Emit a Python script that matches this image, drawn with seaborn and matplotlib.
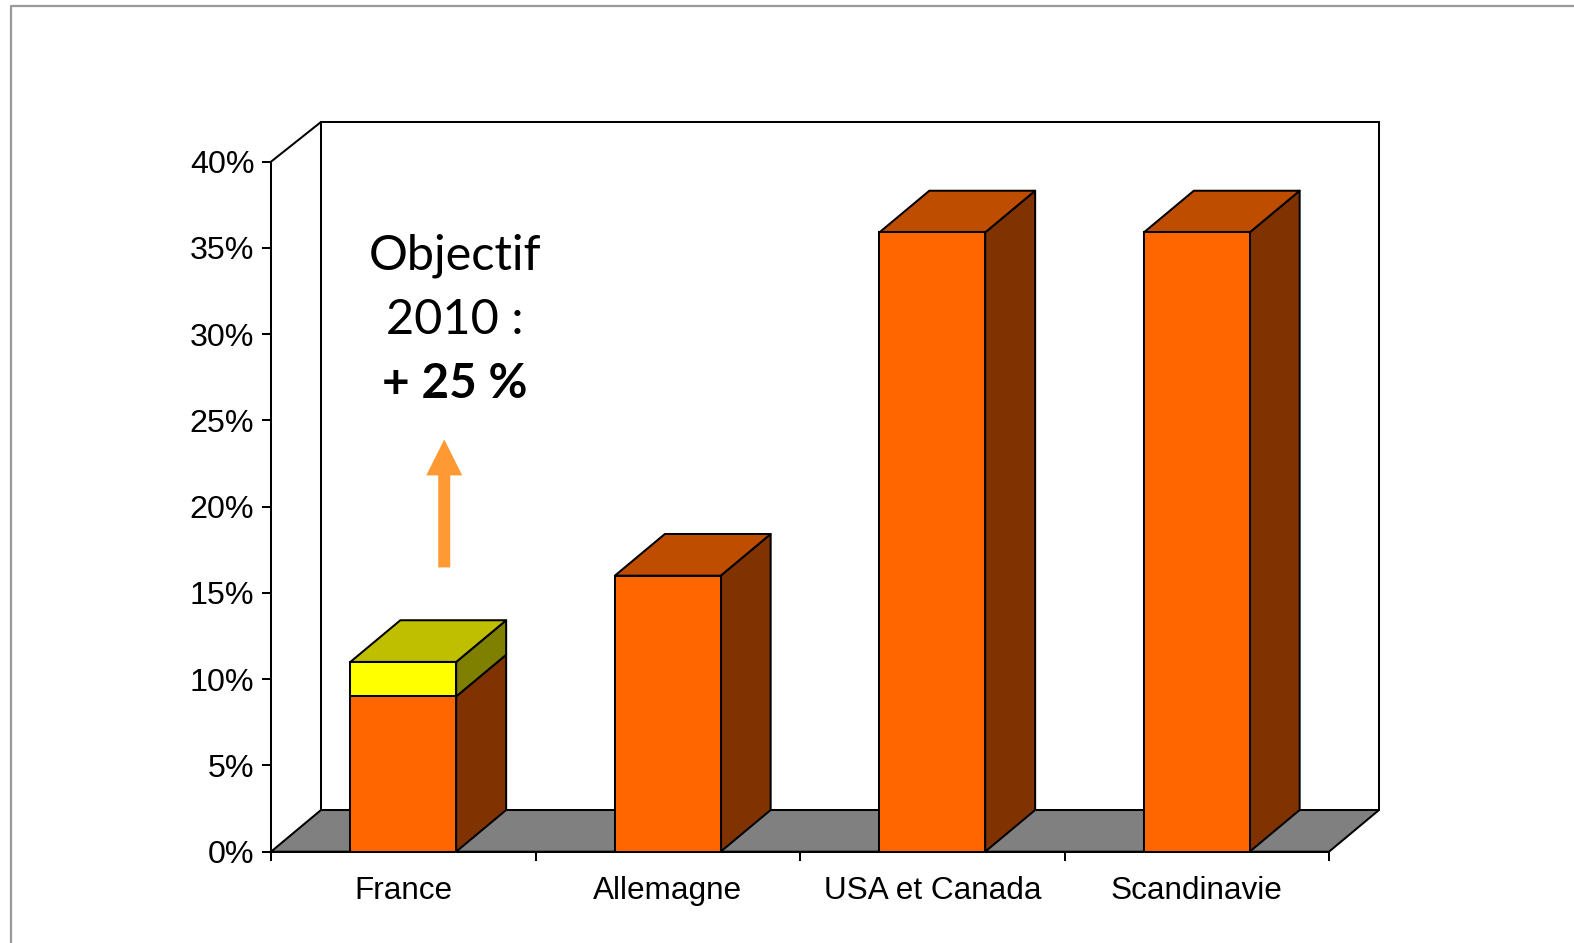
import matplotlib
matplotlib.use("Agg")
import matplotlib.pyplot as plt
from matplotlib.lines import Line2D
from matplotlib.patches import Polygon
import pandas as pd
import seaborn as sns

categories = ["France", "Allemagne", "USA et Canada", "Scandinavie"]
base_values = [9.0, 16.0, 35.9, 35.9]
objective_extra = [2.0, 0.0, 0.0, 0.0]
y_ticks = [0, 5, 10, 15, 20, 25, 30, 35, 40]
note_lines = ["Objectif", "2010 :", "+ 25 %"]

W, H = 1574, 943
X0, X1, Y0, Y40 = 271.0, 1329.0, 851.7, 161.7
BAR_WIDTH = 0.4
DEPTH_X = 50 / ((X1 - X0) / 4)
DEPTH_Y = 41.7 / ((Y0 - Y40) / 40)
TOP_DEPTH_Y = 39.7 / ((Y0 - Y40) / 40)
EDGE = 1.45

sns.set_theme(style="white")
plt.rcParams["font.family"] = ["Liberation Sans", "DejaVu Sans"]

fig = plt.figure(figsize=(W / 100, H / 100), dpi=100, facecolor="white")
ax = fig.add_axes([X0 / W, 1 - Y0 / H, (X1 - X0) / W, (Y0 - Y40) / H])
ax.set_facecolor("none")

df = pd.DataFrame({
    "pays": categories,
    "base": base_values,
    "total": [b + e for b, e in zip(base_values, objective_extra)],
})

sns.barplot(data=df, x="pays", y="total", color="#FFFF00", saturation=1, width=BAR_WIDTH,
            edgecolor="black", linewidth=EDGE, zorder=5, ax=ax)
sns.barplot(data=df, x="pays", y="base", color="#FF6600", saturation=1, width=BAR_WIDTH,
            edgecolor="black", linewidth=EDGE, zorder=6, ax=ax)

ax.set_xlim(-0.5, 3.5)
ax.set_ylim(0, 40)
ax.set_xlabel("")
ax.set_ylabel("")


def poly(points, color, z):
    ax.add_patch(Polygon(points, closed=True, facecolor=color, edgecolor="black",
                         linewidth=EDGE, zorder=z, clip_on=False, joinstyle="round"))


# floor and back wall
left, right = -0.5, 3.5
poly([(left, 0), (right, 0), (right + DEPTH_X, DEPTH_Y), (left + DEPTH_X, DEPTH_Y)], "#808080", 1)
wall_top = 40 + TOP_DEPTH_Y
for xs, ys in [
    ([left, left + DEPTH_X], [40, wall_top]),
    ([left + DEPTH_X, left + DEPTH_X], [DEPTH_Y, wall_top]),
    ([left + DEPTH_X, right + DEPTH_X], [wall_top, wall_top]),
    ([right + DEPTH_X, right + DEPTH_X], [DEPTH_Y, wall_top]),
]:
    ax.plot(xs, ys, color="black", lw=EDGE, clip_on=False, zorder=1.5, solid_capstyle="round")

# bar sides and tops
for i, (b, e) in enumerate(zip(base_values, objective_extra)):
    xl, xr = i - BAR_WIDTH / 2, i + BAR_WIDTH / 2
    poly([(xr, 0), (xr + DEPTH_X, DEPTH_Y), (xr + DEPTH_X, b + DEPTH_Y), (xr, b)], "#803300", 3)
    if e > 0:
        t = b + e
        poly([(xr, b), (xr + DEPTH_X, b + DEPTH_Y), (xr + DEPTH_X, t + DEPTH_Y), (xr, t)], "#808000", 3)
        poly([(xl, t), (xr, t), (xr + DEPTH_X, t + DEPTH_Y), (xl + DEPTH_X, t + DEPTH_Y)], "#BFBF00", 4)
    else:
        poly([(xl, b), (xr, b), (xr + DEPTH_X, b + DEPTH_Y), (xl + DEPTH_X, b + DEPTH_Y)], "#BF4D00", 4)

# axes styling
for s in ("top", "right"):
    ax.spines[s].set_visible(False)
for s in ("left", "bottom"):
    ax.spines[s].set_linewidth(EDGE)
    ax.spines[s].set_color("black")
    ax.spines[s].set_zorder(7)

ax.set_yticks(y_ticks)
ax.set_yticklabels([f"{v}%" for v in y_ticks])
ax.tick_params(axis="y", left=True, length=6.5, width=EDGE, color="black", pad=5.5,
               labelsize=23.2, labelcolor="black")
ax.set_xticks(range(len(categories)))
ax.set_xticklabels(categories)
ax.tick_params(axis="x", which="major", bottom=False, length=0, pad=17.5, labelsize=22.7, labelcolor="black")
ax.set_xticks([left + k for k in range(len(categories) + 1)], minor=True)
ax.tick_params(axis="x", which="minor", bottom=True, length=6.5, width=EDGE, color="black")

# annotation text
note_y = [33.77, 30.02, 26.3]
note_size = [35.0, 35.0, 34.4]
for txt, yv, weight, size in zip(note_lines, note_y, ["normal", "normal", "bold"], note_size):
    ax.text(0.196, yv, txt, fontsize=size, fontweight=weight, family=["Lato", "DejaVu Sans"],
            color="black", ha="center", va="baseline", zorder=8)

# arrow
ax.annotate("", xy=(0.155, 23.9), xytext=(0.155, 16.48),
            arrowprops=dict(width=8.64, headwidth=25.9, headlength=25.9, shrink=0,
                            facecolor="#FF9933", edgecolor="none", linewidth=0),
            zorder=8, annotation_clip=False)

# outer frame
fx, fy = 11 / W, 1 - 6 / H
fig.add_artist(Line2D([fx, fx, 1], [0, fy, fy], color="#999999", lw=1.6, transform=fig.transFigure))

fig.savefig("out.png", dpi=100, facecolor="white")
